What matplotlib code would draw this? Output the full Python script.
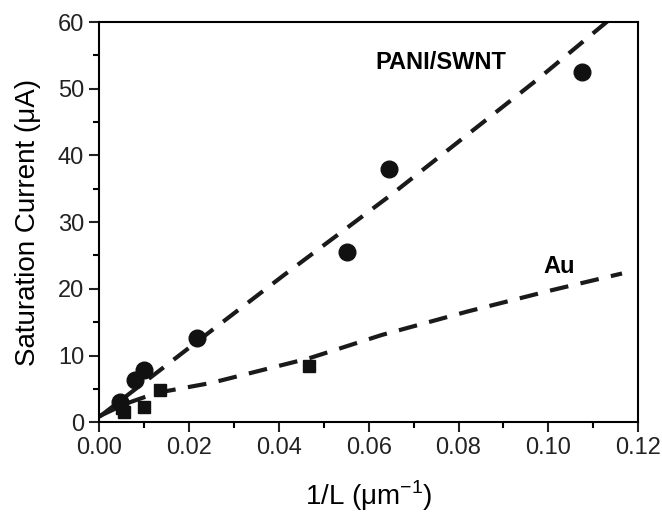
import matplotlib
matplotlib.use('Agg')
import matplotlib.pyplot as plt
from matplotlib.ticker import MultipleLocator, FormatStrFormatter

plt.rcParams['font.family'] = ['Liberation Sans', 'DejaVu Sans']

# datos
x_pani = [0.0047, 0.0080, 0.0099, 0.0218, 0.0551, 0.0645, 0.1075]
y_pani = [3.1, 6.4, 7.9, 12.6, 25.5, 38.0, 52.5]

x_au = [0.0050, 0.0055, 0.0099, 0.0135, 0.0468]
y_au = [2.2, 1.6, 2.3, 4.9, 8.4]

# curvas de ajuste (puntos leidos sobre las lineas punteadas)
x_fit_pani = [0.0, 0.0222, 0.0410, 0.0648, 0.0974, 0.1135]
y_fit_pani = [0.8, 12.3, 22.0, 34.0, 51.3, 60.3]

x_fit_au = [0.0, 0.0060, 0.0128, 0.0250, 0.0468, 0.0630, 0.0820, 0.1008, 0.1164]
y_fit_au = [0.9, 2.8, 4.4, 5.9, 9.6, 13.1, 16.6, 19.8, 22.3]

fig = plt.figure(figsize=(6.62, 5.13), dpi=100)
ax = fig.add_axes([0.150, 0.177, 0.814, 0.780])

ax.plot(x_fit_pani, y_fit_pani, color='#1a1a1a', lw=3, dashes=(4.5, 3))
ax.plot(x_fit_au, y_fit_au, color='#1a1a1a', lw=3, dashes=(4.5, 3))
ax.plot(x_pani, y_pani, 'o', color='#111111', ms=12)
ax.plot(x_au, y_au, 's', color='#111111', ms=9)

ax.text(0.0615, 54.0, 'PANI/SWNT', fontsize=17, fontweight='bold', va='center')
ax.text(0.0990, 23.4, 'Au', fontsize=17, fontweight='bold', va='center')

ax.set_xlim(0, 0.12)
ax.set_ylim(0, 60)
ax.xaxis.set_major_locator(MultipleLocator(0.02))
ax.xaxis.set_minor_locator(MultipleLocator(0.01))
ax.yaxis.set_major_locator(MultipleLocator(10))
ax.yaxis.set_minor_locator(MultipleLocator(5))
ax.xaxis.set_major_formatter(FormatStrFormatter('%.2f'))
ax.tick_params(which='major', direction='out', length=7, width=1.5, labelsize=17,
               colors='#222222', pad=4)
ax.tick_params(which='minor', direction='out', length=4, width=1.5)
for s in ax.spines.values():
    s.set_linewidth(1.5)

ax.set_xlabel('1/L (μm$^{\\mathregular{-1}}$)', fontsize=20, labelpad=14)
ax.set_ylabel('Saturation Current (μA)', fontsize=20, labelpad=12)

plt.savefig('out.png', dpi=100)
